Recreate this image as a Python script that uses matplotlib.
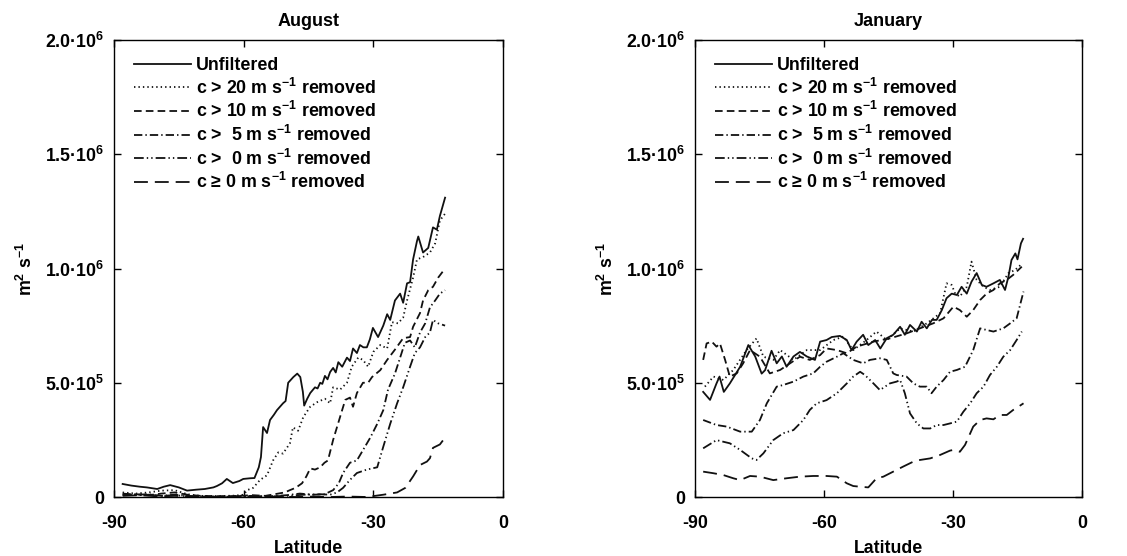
import numpy as np
import matplotlib
matplotlib.use("Agg")
import matplotlib.pyplot as plt

FS = 12.8
plt.rcParams.update({
    "font.family": ["Liberation Sans", "DejaVu Sans"],
    "font.weight": "bold",
    "axes.labelweight": "bold",
    "axes.titleweight": "bold",
    "font.size": FS,
    "mathtext.fontset": "custom",
    "mathtext.rm": "Liberation Sans:bold",
    "mathtext.bf": "Liberation Sans:bold",
    "mathtext.it": "Liberation Sans:bold:italic",
    "mathtext.sf": "Liberation Sans:bold",
    "mathtext.default": "bf",
    "lines.scale_dashes": False,
})

# ---------------- data (values in units of 1e5 m^2 s^-1) ----------------
panel_titles = ["August", "January"]
legend_labels = [
    "Unfiltered",
    "c > 20 m s$^{-1}$ removed",
    "c > 10 m s$^{-1}$ removed",
    "c >  5 m s$^{-1}$ removed",
    "c >  0 m s$^{-1}$ removed",
    "c \u2265 0 m s$^{-1}$ removed",
]
x_ticks = [-90, -60, -30, 0]
y_ticks = [0, 5e5, 1e6, 1.5e6, 2e6]
y_tick_labels = ["0", "5.0\u00b710$^{5}$", "1.0\u00b710$^{6}$",
                 "1.5\u00b710$^{6}$", "2.0\u00b710$^{6}$"]

aug_unfiltered = [(-88, 0.57), (-86, 0.5), (-84, 0.45), (-82.4, 0.42), (-80, 0.35), (-78.5, 0.45),
    (-77, 0.52), (-75, 0.42), (-73.1, 0.28), (-71, 0.32), (-69, 0.35), (-67, 0.42), (-66.2, 0.48),
    (-65, 0.6), (-63.9, 0.79), (-62.5, 0.61), (-61, 0.7), (-60.1, 0.79), (-58.5, 0.82), (-57.5, 0.83),
    (-56.5, 1.3), (-56, 1.75), (-55.5, 3.06), (-54.6, 2.8), (-53.9, 3.37), (-53, 3.6), (-52.3, 3.8),
    (-50.9, 4.1), (-50.3, 4.2), (-49.7, 5.0), (-48.5, 5.25), (-47.6, 5.4), (-46.9, 5.25), (-46.3, 4.6),
    (-46, 4.0), (-45.3, 4.3), (-44.6, 4.55), (-43.5, 4.8), (-42.9, 4.75), (-42.3, 5.0), (-41.8, 4.95),
    (-41.2, 5.3), (-40.6, 5.15), (-40, 5.47), (-39.3, 5.65), (-38.7, 5.45), (-38.1, 5.9), (-37.2, 5.7),
    (-36.1, 6.1), (-35.4, 5.95), (-34.7, 6.5), (-33.8, 6.3), (-33.1, 6.65), (-32.3, 6.55), (-31.5, 6.55),
    (-30.8, 6.9), (-30.1, 7.4), (-28.9, 7.0), (-27.7, 7.5), (-26.8, 8.0), (-26.1, 7.75), (-25, 8.6),
    (-23.8, 8.9), (-23.1, 8.5), (-22.2, 9.35), (-21.5, 9.4), (-20.8, 10.4), (-19.9, 11.2), (-19.6, 11.4),
    (-18.5, 10.7), (-17.3, 10.9), (-16.2, 11.8), (-15.3, 11.7), (-14.6, 12.3), (-13.4, 13.1)]

aug_c20 = [(-88, 0.2), (-85, 0.15), (-82, 0.2), (-79, 0.28), (-76, 0.3), (-73, 0.12), (-70, 0.05),
    (-66, 0.04), (-62, 0.06), (-60, 0.1), (-59.2, 0.3), (-57.8, 0.4), (-56.2, 0.75), (-54.6, 0.95),
    (-53.2, 1.6), (-52, 1.95), (-50.9, 1.9), (-49.3, 2.35), (-48.6, 3.05), (-47.4, 2.9), (-46.2, 3.5),
    (-44.6, 3.95), (-43, 4.15), (-41.2, 4.3), (-40, 4.1), (-39.3, 4.8), (-37.7, 4.7), (-36.1, 5.0),
    (-35, 5.7), (-33.5, 6.1), (-32.4, 6.0), (-31.2, 5.7), (-30, 6.35), (-28.4, 6.65), (-26.8, 6.5),
    (-25.7, 7.65), (-24.3, 7.6), (-23.1, 7.85), (-22.2, 8.6), (-20.8, 9.6), (-19.9, 10.4), (-18.5, 10.5),
    (-16.9, 10.7), (-15.7, 11.1), (-14.6, 12.1), (-13.4, 12.4)]

aug_c10 = [(-88, 0.1), (-85, 0.12), (-82, 0.08), (-79, 0.15), (-76, 0.2), (-73, 0.1), (-70, 0.05),
    (-66, 0.03), (-62, 0.04), (-58, 0.08), (-55, 0.05), (-52, 0.15), (-50.5, 0.2), (-49.3, 0.3),
    (-48, 0.4), (-46.5, 0.6), (-45.5, 0.9), (-44.6, 1.25), (-43.5, 1.2), (-42.3, 1.3), (-41.3, 1.5),
    (-40.5, 1.6), (-39.3, 2.5), (-37.7, 3.5), (-36.5, 4.25), (-35.4, 4.35), (-34.7, 3.95), (-33.8, 4.55),
    (-32.4, 5.0), (-31.2, 5.0), (-30.3, 5.25), (-28.4, 5.55), (-26.8, 6.0), (-25, 6.45), (-23.1, 6.95),
    (-21.5, 7.0), (-20.8, 7.45), (-19.2, 8.05), (-18.5, 8.6), (-17.3, 9.05), (-16.2, 9.2), (-15, 9.6),
    (-13.4, 10.0)]

aug_c5 = [(-88, 0.15), (-85, 0.1), (-82, 0.12), (-79, 0.05), (-76, 0.1), (-73, 0.05), (-70, 0.02),
    (-66, 0.02), (-62, 0.03), (-58, 0.05), (-54, 0.03), (-50, 0.08), (-47, 0.15), (-44, 0.1),
    (-41.3, 0.12), (-39.3, 0.3), (-38, 0.6), (-37, 1.05), (-35.4, 1.5), (-33.8, 1.6), (-32.4, 2.05),
    (-30.7, 2.6), (-29.1, 3.2), (-27.7, 3.8), (-26.6, 4.7), (-25, 5.4), (-23.8, 6.1), (-22.7, 6.75),
    (-21.5, 6.85), (-20.4, 6.55), (-19.2, 7.2), (-18, 7.6), (-16.9, 8.3), (-15.7, 8.6), (-14.6, 8.9),
    (-13.4, 9.05)]

aug_c0 = [(-88, 0.1), (-85, 0.08), (-82, 0.1), (-79, 0.05), (-76, 0.08), (-73, 0.03), (-70, 0.02),
    (-66, 0.01), (-62, 0.02), (-58, 0.03), (-54, 0.02), (-50, 0.05), (-46, 0.1), (-42, 0.12), (-40, 0.1),
    (-38.4, 0.2), (-37, 0.4), (-35.4, 0.75), (-33.8, 1.05), (-31.5, 1.2), (-29.1, 1.3), (-27.7, 2.2),
    (-26.1, 3.2), (-24.5, 4.1), (-23.1, 4.8), (-21.5, 5.7), (-20.4, 6.3), (-19.2, 6.55), (-18, 7.0),
    (-16.9, 7.2), (-16.2, 7.75), (-15, 7.6), (-13.4, 7.5)]

aug_ge0 = [(-88, 0.05), (-84, 0.08), (-80, 0.03), (-76, 0.05), (-72, 0.02), (-68, 0.0), (-64, 0.0),
    (-60, 0.02), (-56, 0.0), (-52, 0.02), (-48, 0.0), (-44, 0.02), (-40, 0.0), (-36, 0.02), (-31.5, 0.0),
    (-27.7, 0.1), (-24.5, 0.2), (-22.6, 0.4), (-20.8, 0.9), (-19.2, 1.4), (-17.6, 1.55), (-16.9, 1.7),
    (-16.2, 2.15), (-14.6, 2.3), (-13.4, 2.6)]

jan_unfiltered = [(-88.1, 4.6), (-86.5, 4.25), (-85, 4.97), (-84.3, 5.27), (-83.3, 4.6), (-81.9, 4.97),
    (-79.5, 5.7), (-77.6, 6.65), (-76, 6.15), (-74.5, 5.4), (-73.7, 5.55), (-72.2, 6.4), (-71, 5.85),
    (-69.8, 6.15), (-68.7, 5.7), (-67.1, 6.15), (-65.6, 6.35), (-64, 6.15), (-62.1, 6.0), (-60.9, 6.8),
    (-59.4, 6.87), (-58.2, 7.0), (-56.3, 7.05), (-54.7, 6.87), (-53.6, 6.43), (-52.4, 6.8), (-50.9, 7.1),
    (-49.7, 6.65), (-48.1, 6.87), (-46.9, 6.5), (-45.4, 6.95), (-43.9, 7.1), (-42.3, 7.45), (-41.2, 7.1),
    (-40, 7.53), (-38.4, 7.24), (-37.3, 7.67), (-36.1, 7.38), (-34.9, 7.75), (-33.8, 7.75), (-32.6, 8.18),
    (-31.5, 8.7), (-30.3, 8.9), (-29.1, 8.84), (-28, 9.2), (-26.8, 8.9), (-25.7, 9.42), (-24.5, 9.8),
    (-23.3, 9.28), (-22.2, 9.2), (-20.6, 9.35), (-19.1, 9.5), (-17.9, 9.06), (-17.1, 9.65), (-16.4, 10.37),
    (-15.5, 10.66), (-15, 10.4), (-14.2, 11.1), (-13.7, 11.3)]

jan_c20 = [(-87.7, 4.83), (-85.7, 5.27), (-83.4, 5.12), (-81.1, 5.56), (-78, 6.43), (-75.7, 6.94),
    (-74.1, 6.14), (-71.8, 6.0), (-70.2, 6.43), (-67.1, 6.0), (-64, 6.43), (-60.9, 6.43), (-57.8, 6.87),
    (-55.5, 7.02), (-53.2, 6.43), (-50.1, 6.87), (-47.8, 7.24), (-45.4, 6.87), (-42.3, 7.38), (-39.2, 7.24),
    (-36.1, 7.6), (-33, 8.04), (-31.5, 9.35), (-30.3, 9.28), (-29.5, 8.9), (-28.4, 8.77), (-26.8, 9.2),
    (-25.7, 10.3), (-24.5, 9.5), (-22.9, 9.2), (-21.4, 9.06), (-19.1, 9.2), (-17.1, 9.8), (-15.6, 9.93),
    (-14, 10.2)]

jan_c10 = [(-88.1, 6.0), (-87.3, 6.72), (-86.1, 6.8), (-85, 6.58), (-84.2, 6.72), (-83, 6.0),
    (-81.9, 5.27), (-80.3, 5.41), (-78.8, 5.85), (-77.2, 6.43), (-74.9, 6.14), (-72.6, 5.41), (-70.2, 5.56),
    (-67.9, 5.85), (-65.6, 6.14), (-63.3, 6.0), (-60.9, 6.21), (-59.4, 6.5), (-57, 6.43), (-54.7, 6.29),
    (-52.4, 6.58), (-48.5, 6.8), (-44.7, 6.94), (-40.8, 7.16), (-37.7, 7.38), (-34.6, 7.6), (-32.2, 7.82),
    (-29.9, 8.33), (-28.4, 8.18), (-26.8, 7.89), (-25.3, 8.18), (-23.7, 8.62), (-22.2, 8.9), (-20.6, 9.06),
    (-19.1, 9.35), (-17.5, 9.5), (-16, 9.72), (-14, 10.08)]

jan_c5 = [(-88.1, 3.37), (-85, 3.15), (-82.6, 3.08), (-79.5, 2.86), (-76.8, 2.86), (-74.9, 3.37),
    (-73.3, 4.1), (-71, 4.83), (-69.5, 4.9), (-67.1, 5.05), (-64.8, 5.27), (-62.5, 5.41), (-60.9, 5.7),
    (-59.4, 5.92), (-57, 6.14), (-55.5, 6.29), (-53.2, 6.0), (-50.9, 5.85), (-49.3, 6.0), (-47, 6.07),
    (-45.4, 6.0), (-43.9, 5.41), (-43.1, 5.34), (-40.8, 5.27), (-39.2, 4.97), (-37.7, 4.83), (-36.1, 4.83),
    (-35, 4.54), (-33.8, 4.83), (-32.2, 5.12), (-30.7, 5.48), (-29.1, 5.56), (-27.2, 5.7), (-25.3, 6.43),
    (-23.7, 7.38), (-22.2, 7.31), (-20.6, 7.24), (-18.3, 7.38), (-16.7, 7.6), (-15.2, 7.82), (-13.6, 8.99)]

jan_c0 = [(-88.1, 2.13), (-85, 2.49), (-81.9, 2.35), (-79.5, 2.06), (-76.8, 1.69), (-75.7, 1.62),
    (-74.1, 1.91), (-71.8, 2.49), (-69.5, 2.79), (-67.1, 2.93), (-64.8, 3.37), (-63.3, 3.81), (-61.7, 4.1),
    (-59.4, 4.24), (-57, 4.54), (-54.7, 4.97), (-53.2, 5.27), (-51.6, 5.48), (-50.5, 5.34), (-48.5, 4.97),
    (-47, 4.68), (-45.8, 4.83), (-44.7, 4.97), (-43.1, 5.05), (-42.3, 5.12), (-41.2, 4.54), (-40, 3.66),
    (-38.4, 3.22), (-36.9, 3.0), (-35.3, 3.0), (-33.8, 3.15), (-32.2, 3.15), (-30.7, 3.22), (-29.1, 3.3),
    (-27.6, 3.73), (-26, 4.1), (-24.5, 4.54), (-22.9, 4.83), (-21.4, 5.34), (-19.8, 5.7), (-18.3, 6.14),
    (-16.7, 6.43), (-15.2, 6.87), (-14, 7.24)]

jan_ge0 = [(-88.1, 1.11), (-85.7, 1.04), (-83.4, 0.96), (-81.1, 0.82), (-79.5, 0.74), (-77.2, 0.92),
    (-74.9, 0.89), (-71.8, 0.74), (-68.7, 0.82), (-65.6, 0.89), (-62.5, 0.92), (-59.4, 0.92), (-57, 0.89),
    (-54.7, 0.6), (-53.2, 0.48), (-51.6, 0.45), (-49.7, 0.42), (-48.5, 0.67), (-47.8, 0.82), (-46.2, 0.89),
    (-43.9, 1.11), (-41.6, 1.33), (-39.2, 1.55), (-37.7, 1.62), (-35.3, 1.69), (-33, 1.84), (-30.7, 2.03),
    (-29.9, 2.06), (-28.4, 1.98), (-27.2, 2.28), (-25.3, 3.08), (-23.7, 3.37), (-22.2, 3.44), (-20.6, 3.4),
    (-19.1, 3.59), (-17.5, 3.59), (-16, 3.81), (-14.8, 3.95), (-13.6, 4.1)]

august_series = [aug_unfiltered, aug_c20, aug_c10, aug_c5, aug_c0, aug_ge0]
january_series = [jan_unfiltered, jan_c20, jan_c10, jan_c5, jan_c0, jan_ge0]

# line styles (points, unscaled)
styles = ["-", (0, (1.0, 2.2)), (0, (5.5, 3.0)), (0, (6, 2.2, 1, 2.2)),
          (0, (7, 2.2, 1, 2.2, 1, 2.2)), (0, (10, 5))]

fig = plt.figure(figsize=(11.27, 5.56), dpi=100)
ax_rects = [[114 / 1127, 59 / 556, 389 / 1127, 457 / 556],
            [695 / 1127, 59 / 556, 387 / 1127, 457 / 556]]

for rect, title, series in zip(ax_rects, panel_titles, [august_series, january_series]):
    ax = fig.add_axes(rect)
    for data, ls, lab in zip(series, styles, legend_labels):
        arr = np.array(data)
        ax.plot(arr[:, 0], arr[:, 1] * 1e5, color="#111111", lw=1.3, linestyle=ls, label=lab)
    ax.set_xlim(-90, 0)
    ax.set_ylim(0, 2e6)
    ax.set_xticks(x_ticks)
    ax.set_xticklabels([str(t) for t in x_ticks])
    ax.set_yticks(y_ticks)
    ax.set_yticklabels(y_tick_labels)
    ax.tick_params(direction="in", length=5, width=1, top=True, right=True)
    ax.tick_params(axis="x", pad=13)
    ax.tick_params(axis="y", pad=7)
    for s in ax.spines.values():
        s.set_linewidth(1.0)
    ax.set_title(title, fontsize=13, pad=10)
    ax.set_xlabel("Latitude", labelpad=6)
    ax.set_ylabel("m$^{2}$ s$^{-1}$", labelpad=7)
    ax.legend(loc="upper left", bbox_to_anchor=(0.02, 0.99), frameon=False,
              handlelength=3.2, handletextpad=0.25, labelspacing=0.2,
              borderaxespad=0.3, fontsize=FS)

fig.savefig("out.png", dpi=100)
